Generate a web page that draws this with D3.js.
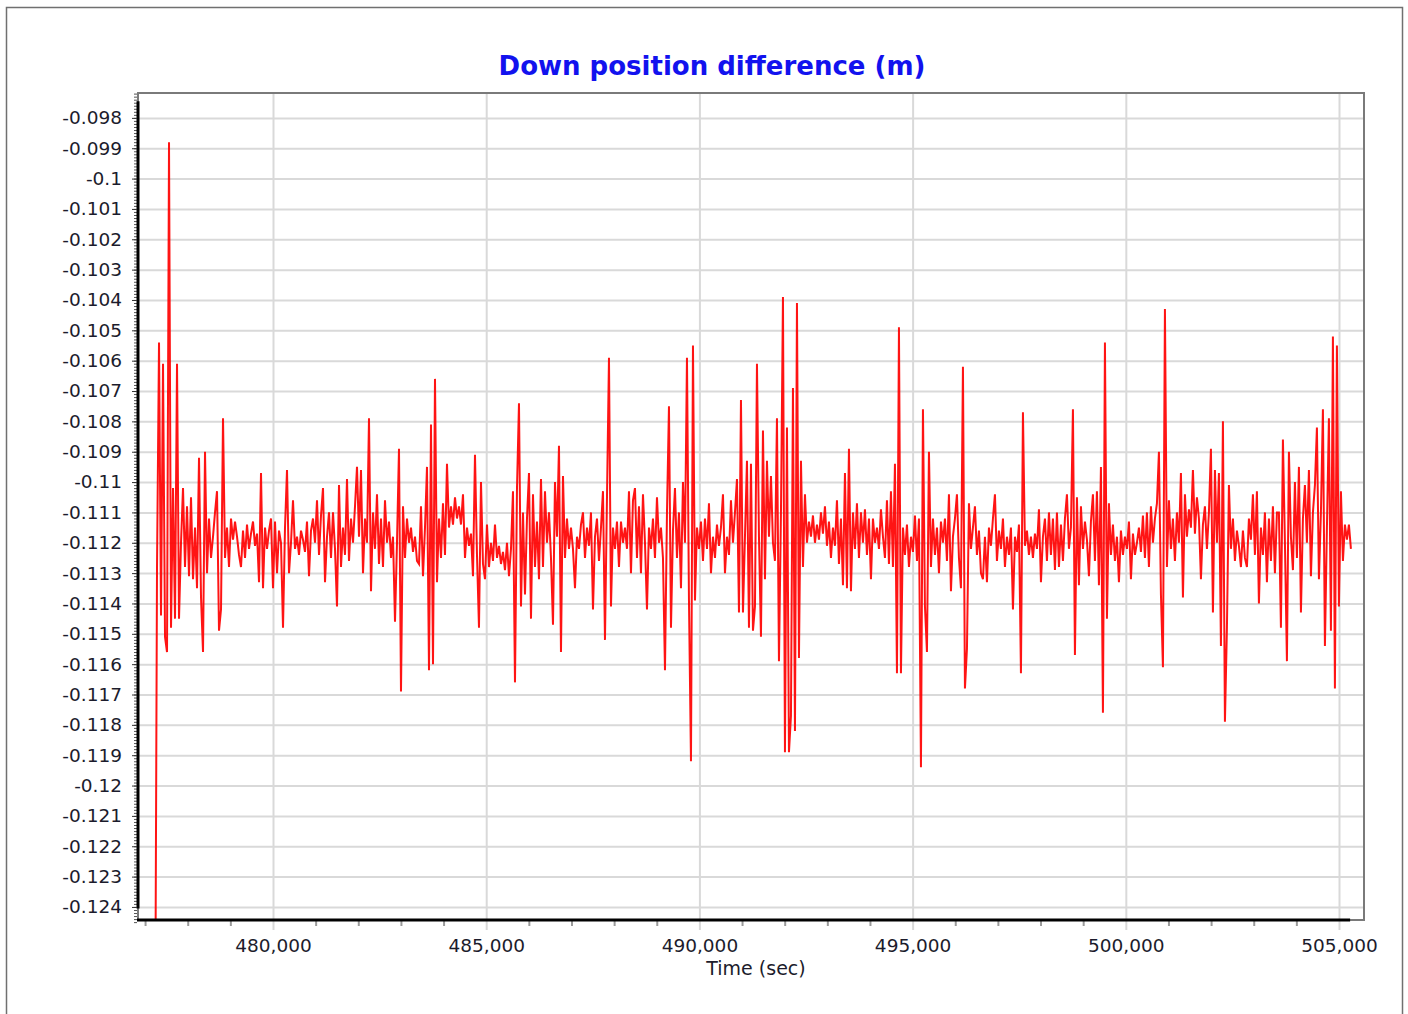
<!DOCTYPE html>
<html>
<head>
<meta charset="utf-8">
<script src="https://cdn.jsdelivr.net/npm/d3@7"></script>
<style>
  body { margin: 0; background: #fff; }
  svg { display: block; }
  .tick text { font-family: "DejaVu Sans", Verdana, sans-serif; }
</style>
</head>
<body>
<svg id="chart" width="1408" height="1014"></svg>
<script>
// ---------------------------------------------------------------- DATA
const chartTitle = "Down position difference (m)";
const xTitle = "Time (sec)";

// GPS epochs: first epoch and sampling step (sec)
const epochStart = 477233;
const epochStep = 46.9;

// tick values
const xMajorTicks = [480000, 485000, 490000, 495000, 500000, 505000];
const yMajorTicks = [-0.124, -0.123, -0.122, -0.121, -0.12, -0.119, -0.118, -0.117, -0.116, -0.115,
  -0.114, -0.113, -0.112, -0.111, -0.11, -0.109, -0.108, -0.107, -0.106, -0.105,
  -0.104, -0.103, -0.102, -0.101, -0.1, -0.099, -0.098];

// down position difference (m), one value per epoch
const downDiff = [
  -0.1300, -0.1128, -0.1054, -0.1144, -0.1061, -0.1151, -0.1156, -0.0988, -0.1148, -0.1102,
  -0.1145, -0.1061, -0.1145, -0.1120, -0.1102, -0.1128, -0.1108, -0.1131, -0.1105, -0.1132,
  -0.1115, -0.1135, -0.1092, -0.1138, -0.1156, -0.1090, -0.1130, -0.1112, -0.1125, -0.1118,
  -0.1110, -0.1103, -0.1149, -0.1142, -0.1079, -0.1125, -0.1115, -0.1128, -0.1112, -0.1119,
  -0.1113, -0.1118, -0.1124, -0.1128, -0.1116, -0.1125, -0.1114, -0.1122, -0.1117, -0.1113,
  -0.1121, -0.1117, -0.1133, -0.1097, -0.1135, -0.1115, -0.1122, -0.1116, -0.1112, -0.1135,
  -0.1113, -0.1130, -0.1116, -0.1120, -0.1148, -0.1115, -0.1096, -0.1130, -0.1120, -0.1106,
  -0.1122, -0.1118, -0.1124, -0.1116, -0.1119, -0.1123, -0.1113, -0.1131, -0.1116, -0.1112,
  -0.1120, -0.1106, -0.1124, -0.1111, -0.1102, -0.1133, -0.1118, -0.1110, -0.1125, -0.1110,
  -0.1122, -0.1141, -0.1101, -0.1128, -0.1115, -0.1124, -0.1099, -0.1126, -0.1112, -0.1120,
  -0.1108, -0.1095, -0.1118, -0.1096, -0.1130, -0.1112, -0.1120, -0.1079, -0.1136, -0.1110,
  -0.1122, -0.1104, -0.1127, -0.1112, -0.1128, -0.1106, -0.1120, -0.1113, -0.1125, -0.1118,
  -0.1146, -0.1120, -0.1089, -0.1169, -0.1108, -0.1125, -0.1112, -0.1120, -0.1115, -0.1123,
  -0.1118, -0.1126, -0.1127, -0.1108, -0.1131, -0.1115, -0.1095, -0.1162, -0.1081, -0.1160,
  -0.1066, -0.1133, -0.1112, -0.1125, -0.1107, -0.1124, -0.1094, -0.1115, -0.1108, -0.1114,
  -0.1105, -0.1112, -0.1108, -0.1114, -0.1104, -0.1125, -0.1115, -0.1121, -0.1117, -0.1131,
  -0.1091, -0.1124, -0.1148, -0.1100, -0.1127, -0.1132, -0.1114, -0.1128, -0.1120, -0.1126,
  -0.1114, -0.1125, -0.1121, -0.1127, -0.1123, -0.1129, -0.1120, -0.1131, -0.1122, -0.1103,
  -0.1166, -0.1102, -0.1074, -0.1141, -0.1110, -0.1137, -0.1112, -0.1097, -0.1145, -0.1104,
  -0.1128, -0.1113, -0.1132, -0.1099, -0.1128, -0.1103, -0.1120, -0.1110, -0.1125, -0.1147,
  -0.1100, -0.1118, -0.1088, -0.1156, -0.1098, -0.1125, -0.1112, -0.1122, -0.1115, -0.1122,
  -0.1135, -0.1118, -0.1122, -0.1114, -0.1110, -0.1125, -0.1115, -0.1121, -0.1110, -0.1142,
  -0.1118, -0.1112, -0.1126, -0.1115, -0.1103, -0.1152, -0.1105, -0.1059, -0.1141, -0.1115,
  -0.1122, -0.1113, -0.1128, -0.1113, -0.1120, -0.1115, -0.1122, -0.1103, -0.1130, -0.1106,
  -0.1102, -0.1125, -0.1108, -0.1130, -0.1104, -0.1120, -0.1142, -0.1115, -0.1122, -0.1112,
  -0.1125, -0.1105, -0.1120, -0.1115, -0.1125, -0.1162, -0.1110, -0.1075, -0.1148, -0.1116,
  -0.1102, -0.1125, -0.1110, -0.1135, -0.1100, -0.1120, -0.1059, -0.1139, -0.1192, -0.1055,
  -0.1139, -0.1115, -0.1122, -0.1113, -0.1126, -0.1112, -0.1122, -0.1107, -0.1130, -0.1118,
  -0.1125, -0.1114, -0.1121, -0.1115, -0.1104, -0.1130, -0.1118, -0.1124, -0.1106, -0.1120,
  -0.1110, -0.1099, -0.1143, -0.1073, -0.1143, -0.1118, -0.1093, -0.1148, -0.1094, -0.1149,
  -0.1141, -0.1061, -0.1118, -0.1151, -0.1083, -0.1132, -0.1093, -0.1118, -0.1098, -0.1120,
  -0.1126, -0.1079, -0.1159, -0.1110, -0.1039, -0.1189, -0.1082, -0.1189, -0.1177, -0.1069,
  -0.1182, -0.1041, -0.1158, -0.1093, -0.1128, -0.1104, -0.1120, -0.1113, -0.1118, -0.1111,
  -0.1120, -0.1114, -0.1119, -0.1110, -0.1117, -0.1108, -0.1121, -0.1113, -0.1125, -0.1115,
  -0.1121, -0.1106, -0.1127, -0.1112, -0.1134, -0.1097, -0.1135, -0.1089, -0.1136, -0.1110,
  -0.1122, -0.1107, -0.1125, -0.1110, -0.1120, -0.1109, -0.1124, -0.1112, -0.1132, -0.1112,
  -0.1120, -0.1115, -0.1122, -0.1109, -0.1118, -0.1125, -0.1106, -0.1127, -0.1103, -0.1128,
  -0.1094, -0.1163, -0.1049, -0.1163, -0.1115, -0.1124, -0.1114, -0.1128, -0.1118, -0.1123,
  -0.1111, -0.1126, -0.1112, -0.1194, -0.1076, -0.1141, -0.1156, -0.1090, -0.1128, -0.1112,
  -0.1124, -0.1115, -0.1130, -0.1113, -0.1120, -0.1112, -0.1126, -0.1104, -0.1136, -0.1118,
  -0.1112, -0.1104, -0.1125, -0.1135, -0.1062, -0.1168, -0.1155, -0.1107, -0.1122, -0.1115,
  -0.1108, -0.1124, -0.1116, -0.1130, -0.1132, -0.1118, -0.1133, -0.1115, -0.1121, -0.1112,
  -0.1104, -0.1126, -0.1116, -0.1122, -0.1112, -0.1128, -0.1118, -0.1124, -0.1115, -0.1142,
  -0.1118, -0.1123, -0.1114, -0.1163, -0.1077, -0.1121, -0.1116, -0.1124, -0.1118, -0.1125,
  -0.1117, -0.1122, -0.1109, -0.1133, -0.1118, -0.1112, -0.1126, -0.1110, -0.1124, -0.1112,
  -0.1129, -0.1110, -0.1128, -0.1114, -0.1126, -0.1112, -0.1104, -0.1122, -0.1115, -0.1076,
  -0.1157, -0.1105, -0.1134, -0.1108, -0.1122, -0.1113, -0.1119, -0.1131, -0.1113, -0.1104,
  -0.1126, -0.1103, -0.1134, -0.1095, -0.1176, -0.1054, -0.1145, -0.1107, -0.1124, -0.1114,
  -0.1126, -0.1118, -0.1133, -0.1116, -0.1124, -0.1118, -0.1122, -0.1113, -0.1132, -0.1117,
  -0.1124, -0.1120, -0.1115, -0.1123, -0.1111, -0.1125, -0.1110, -0.1128, -0.1108, -0.1120,
  -0.1112, -0.1107, -0.1090, -0.1137, -0.1161, -0.1043, -0.1128, -0.1106, -0.1122, -0.1112,
  -0.1126, -0.1110, -0.1120, -0.1097, -0.1138, -0.1104, -0.1118, -0.1109, -0.1115, -0.1096,
  -0.1117, -0.1105, -0.1112, -0.1132, -0.1114, -0.1108, -0.1122, -0.1110, -0.1089, -0.1143,
  -0.1096, -0.1120, -0.1097, -0.1154, -0.1080, -0.1179, -0.1148, -0.1101, -0.1122, -0.1112,
  -0.1126, -0.1116, -0.1121, -0.1128, -0.1116, -0.1125, -0.1128, -0.1112, -0.1119, -0.1104,
  -0.1124, -0.1103, -0.1140, -0.1115, -0.1124, -0.1110, -0.1133, -0.1112, -0.1126, -0.1108,
  -0.1130, -0.1110, -0.1110, -0.1148, -0.1086, -0.1120, -0.1159, -0.1090, -0.1118, -0.1129,
  -0.1100, -0.1125, -0.1095, -0.1143, -0.1112, -0.1101, -0.1120, -0.1096, -0.1131, -0.1110,
  -0.1101, -0.1082, -0.1132, -0.1110, -0.1076, -0.1154, -0.1115, -0.1079, -0.1149, -0.1052,
  -0.1168, -0.1055, -0.1141, -0.1103, -0.1126, -0.1114, -0.1119, -0.1114, -0.1122
];

// ---------------------------------------------------------------- LAYOUT
const plot = { left: 138, top: 93, right: 1364, bottom: 920 };
const fontFam = '"DejaVu Sans", Verdana, sans-serif';

const svg = d3.select("#chart");

const x = d3.scaleLinear().domain([476834, 505586]).range([plot.left, plot.right]);
const y = d3.scaleLinear().domain([-0.12443, -0.09718]).range([plot.bottom, plot.top]);

const series = downDiff.map((v, i) => ({ t: epochStart + i * epochStep, v: v }));

// outer frame
svg.append("rect")
  .attr("x", 6.5).attr("y", 7.5)
  .attr("width", 1396).attr("height", 1030)
  .attr("fill", "none").attr("stroke", "#707070").attr("stroke-width", 1.5);

// title
svg.append("text")
  .attr("x", 712).attr("y", 75)
  .attr("text-anchor", "middle")
  .style("font-family", fontFam).style("font-weight", "bold").style("font-size", "26px")
  .attr("fill", "#1212ee")
  .text(chartTitle);

// ---------------------------------------------------------------- GRID
svg.append("g")
  .attr("transform", `translate(${plot.left},0)`)
  .call(d3.axisLeft(y).tickValues(yMajorTicks).tickSize(-(plot.right - plot.left)).tickFormat(""))
  .call(g => g.select(".domain").remove())
  .selectAll("line").attr("stroke", "#d9d9d9").attr("stroke-width", 2);

svg.append("g")
  .attr("transform", `translate(0,${plot.bottom + 10})`)
  .call(d3.axisBottom(x).tickValues(xMajorTicks).tickSize(-(plot.bottom + 10 - plot.top)).tickFormat(""))
  .call(g => g.select(".domain").remove())
  .selectAll("line").attr("stroke", "#d9d9d9").attr("stroke-width", 2);

// plot frame
svg.append("rect")
  .attr("x", plot.left).attr("y", plot.top)
  .attr("width", plot.right - plot.left).attr("height", plot.bottom - plot.top)
  .attr("fill", "none").attr("stroke", "#7a7a7a").attr("stroke-width", 2);

// ---------------------------------------------------------------- LINE
svg.append("clipPath").attr("id", "clip")
  .append("rect")
  .attr("x", plot.left).attr("y", plot.top)
  .attr("width", plot.right - plot.left).attr("height", plot.bottom - plot.top);

const line = d3.line().x(d => x(d.t)).y(d => y(d.v));

svg.append("path")
  .datum(series)
  .attr("clip-path", "url(#clip)")
  .attr("d", line)
  .attr("fill", "none")
  .attr("stroke", "#ff0000")
  .attr("stroke-opacity", 0.92)
  .attr("stroke-width", 2)
  .attr("stroke-linejoin", "miter");

// ---------------------------------------------------------------- AXES
// y minor ticks
const yMinor = d3.range(-0.1245, -0.0972, 0.0001);
svg.append("g")
  .attr("transform", `translate(${plot.left - 1},0)`)
  .call(d3.axisLeft(y).tickValues(yMinor).tickSize(3).tickFormat(""))
  .call(g => g.select(".domain").remove())
  .selectAll("line").attr("stroke", "#555").attr("stroke-width", 1);

// y axis line + labels
svg.append("line")
  .attr("x1", plot.left).attr("x2", plot.left)
  .attr("y1", y(-0.09745)).attr("y2", y(-0.12405))
  .attr("stroke", "#000").attr("stroke-width", 3);

svg.append("g")
  .attr("transform", `translate(${plot.left - 1},0)`)
  .call(d3.axisLeft(y).tickValues(yMajorTicks).tickSize(5).tickPadding(10)
    .tickFormat(d => String(+d.toFixed(3))))
  .call(g => g.select(".domain").remove())
  .call(g => g.selectAll("line").attr("stroke", "#333"))
  .selectAll("text")
  .attr("fill", "#1c1c2c")
  .style("font-size", "18.5px");

// x minor ticks
const xMinor = d3.range(477000, 505001, 1000).filter(v => v % 5000 !== 0);
svg.append("g")
  .attr("transform", `translate(0,${plot.bottom + 1})`)
  .call(d3.axisBottom(x).tickValues(xMinor).tickSize(5).tickFormat(""))
  .call(g => g.select(".domain").remove())
  .selectAll("line").attr("stroke", "#9a9a9a").attr("stroke-width", 2);

// x axis line + labels
svg.append("line")
  .attr("x1", plot.left - 1).attr("x2", x(505260))
  .attr("y1", plot.bottom).attr("y2", plot.bottom)
  .attr("stroke", "#000").attr("stroke-width", 3);

svg.append("g")
  .attr("transform", `translate(0,${plot.bottom})`)
  .call(d3.axisBottom(x).tickValues(xMajorTicks).tickSize(0).tickPadding(19)
    .tickFormat(d3.format(",")))
  .call(g => g.select(".domain").remove())
  .selectAll("text")
  .attr("fill", "#1c1c2c")
  .style("font-size", "18.5px");

svg.append("text")
  .attr("x", 756).attr("y", 975)
  .attr("text-anchor", "middle")
  .style("font-family", fontFam).style("font-size", "19px")
  .attr("fill", "#1c1c2c")
  .text(xTitle);
</script>
</body>
</html>
